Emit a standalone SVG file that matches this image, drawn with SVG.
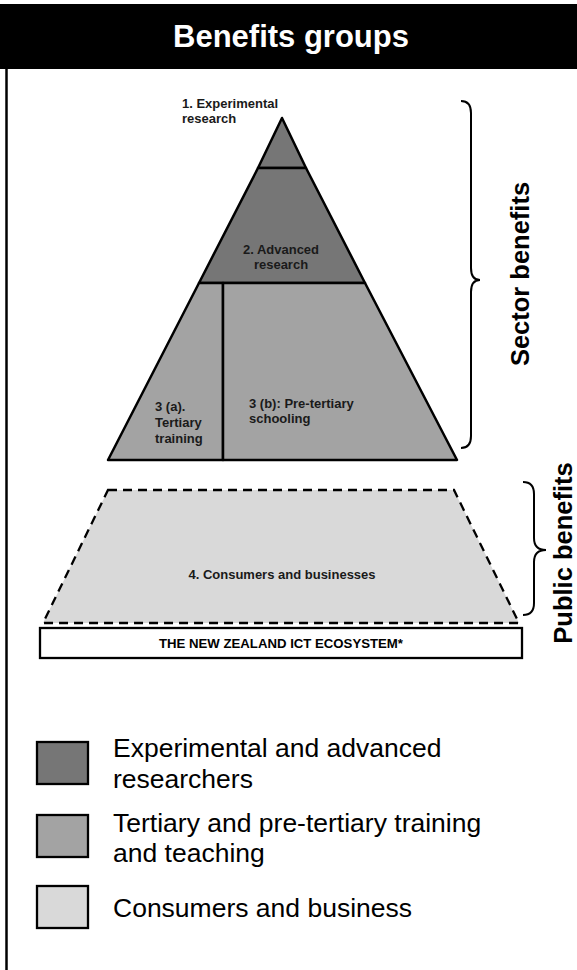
<svg xmlns="http://www.w3.org/2000/svg" width="577" height="970" viewBox="0 0 577 970">
  <style>
    .edge { stroke: #000; stroke-width: 2.5; stroke-linejoin: round; }
    .dark { fill: #767676; }
    .mid { fill: #a3a3a3; }
    .light { fill: #d9d9d9; }
    .lbl { font-family: "Liberation Sans", Arial, sans-serif; font-weight: bold; font-size: 13px; fill: #1a1a1a; }
    .side { font-family: "Liberation Sans", Arial, sans-serif; font-weight: bold; font-size: 25.5px; fill: #000; }
    .legend { font-family: "Liberation Sans", Arial, sans-serif; font-size: 26.5px; fill: #000; }
    .brace { fill: none; stroke: #000; stroke-width: 2; }
  </style>

  <rect x="0" y="0" width="577" height="970" fill="#fff"/>

  <!-- header bar -->
  <g id="header">
    <rect x="0" y="4" width="577" height="65" fill="#000"/>
    <text x="291" y="47" text-anchor="middle" font-family="Liberation Sans, Arial, sans-serif" font-weight="bold" font-size="31" fill="#fff">Benefits groups</text>
  </g>

  <!-- left frame line -->
  <line x1="6.5" y1="69" x2="6.5" y2="970" stroke="#000" stroke-width="2.5"/>

  <!-- pyramid -->
  <g id="experimental">
    <polygon class="dark edge" points="282,118 306,168 258,168"/>
    <text class="lbl" x="182" y="108">1. Experimental</text>
    <text class="lbl" x="182" y="123">research</text>
  </g>
  <g id="advanced">
    <polygon class="dark edge" points="258,168 306,168 365,283 199,283"/>
    <text class="lbl" x="281" y="254" text-anchor="middle">2. Advanced</text>
    <text class="lbl" x="281" y="269" text-anchor="middle">research</text>
  </g>
  <g id="tertiary">
    <polygon class="mid edge" points="199,283 223,283 223,460 108,460"/>
    <text class="lbl" x="155" y="411">3 (a).</text>
    <text class="lbl" x="155" y="427">Tertiary</text>
    <text class="lbl" x="155" y="443">training</text>
  </g>
  <g id="pretertiary">
    <polygon class="mid edge" points="223,283 365,283 457,460 223,460"/>
    <text class="lbl" x="249" y="408">3 (b): Pre-tertiary</text>
    <text class="lbl" x="249" y="423">schooling</text>
  </g>

  <!-- consumers layer -->
  <g id="consumers">
    <polygon class="light" points="108,490 454,490 519,623 43,623" stroke="#000" stroke-width="2.3" stroke-dasharray="9,6"/>
    <text class="lbl" x="282" y="579" text-anchor="middle">4. Consumers and businesses</text>
  </g>

  <!-- base -->
  <g id="ecosystem">
    <rect x="40" y="628" width="482" height="30" fill="#fff" stroke="#000" stroke-width="2.3"/>
    <text x="281" y="648" text-anchor="middle" font-family="Liberation Sans, Arial, sans-serif" font-weight="bold" font-size="13.2" fill="#000">THE NEW ZEALAND ICT ECOSYSTEM*</text>
  </g>

  <!-- braces -->
  <g id="connectors">
    <path class="brace" d="M461 101 Q471 101 471 113 L471 268 Q471 280 480 280 Q471 280 471 292 L471 436 Q471 448 461 448"/>
    <path class="brace" d="M523 482 Q534 482 534 494 L534 538 Q534 550 546 550 Q534 550 534 562 L534 603 Q534 615 523 615"/>
  </g>

  <g id="sector-benefits">
    <text class="side" transform="translate(529 274) rotate(-90)" text-anchor="middle">Sector benefits</text>
  </g>
  <g id="public-benefits">
    <text class="side" transform="translate(572 553) rotate(-90)" text-anchor="middle">Public benefits</text>
  </g>

  <!-- legend -->
  <g id="legend-research">
    <rect x="37" y="742" width="51" height="42" class="dark" stroke="#000" stroke-width="2.3"/>
    <text class="legend" x="113" y="757">Experimental and advanced</text>
    <text class="legend" x="113" y="788">researchers</text>
  </g>
  <g id="legend-training">
    <rect x="37" y="815" width="51" height="42" class="mid" stroke="#000" stroke-width="2.3"/>
    <text class="legend" x="113" y="832">Tertiary and pre-tertiary training</text>
    <text class="legend" x="113" y="862">and teaching</text>
  </g>
  <g id="legend-consumers">
    <rect x="37" y="886" width="51" height="42" class="light" stroke="#000" stroke-width="2.3"/>
    <text class="legend" x="113" y="917">Consumers and business</text>
  </g>
</svg>
